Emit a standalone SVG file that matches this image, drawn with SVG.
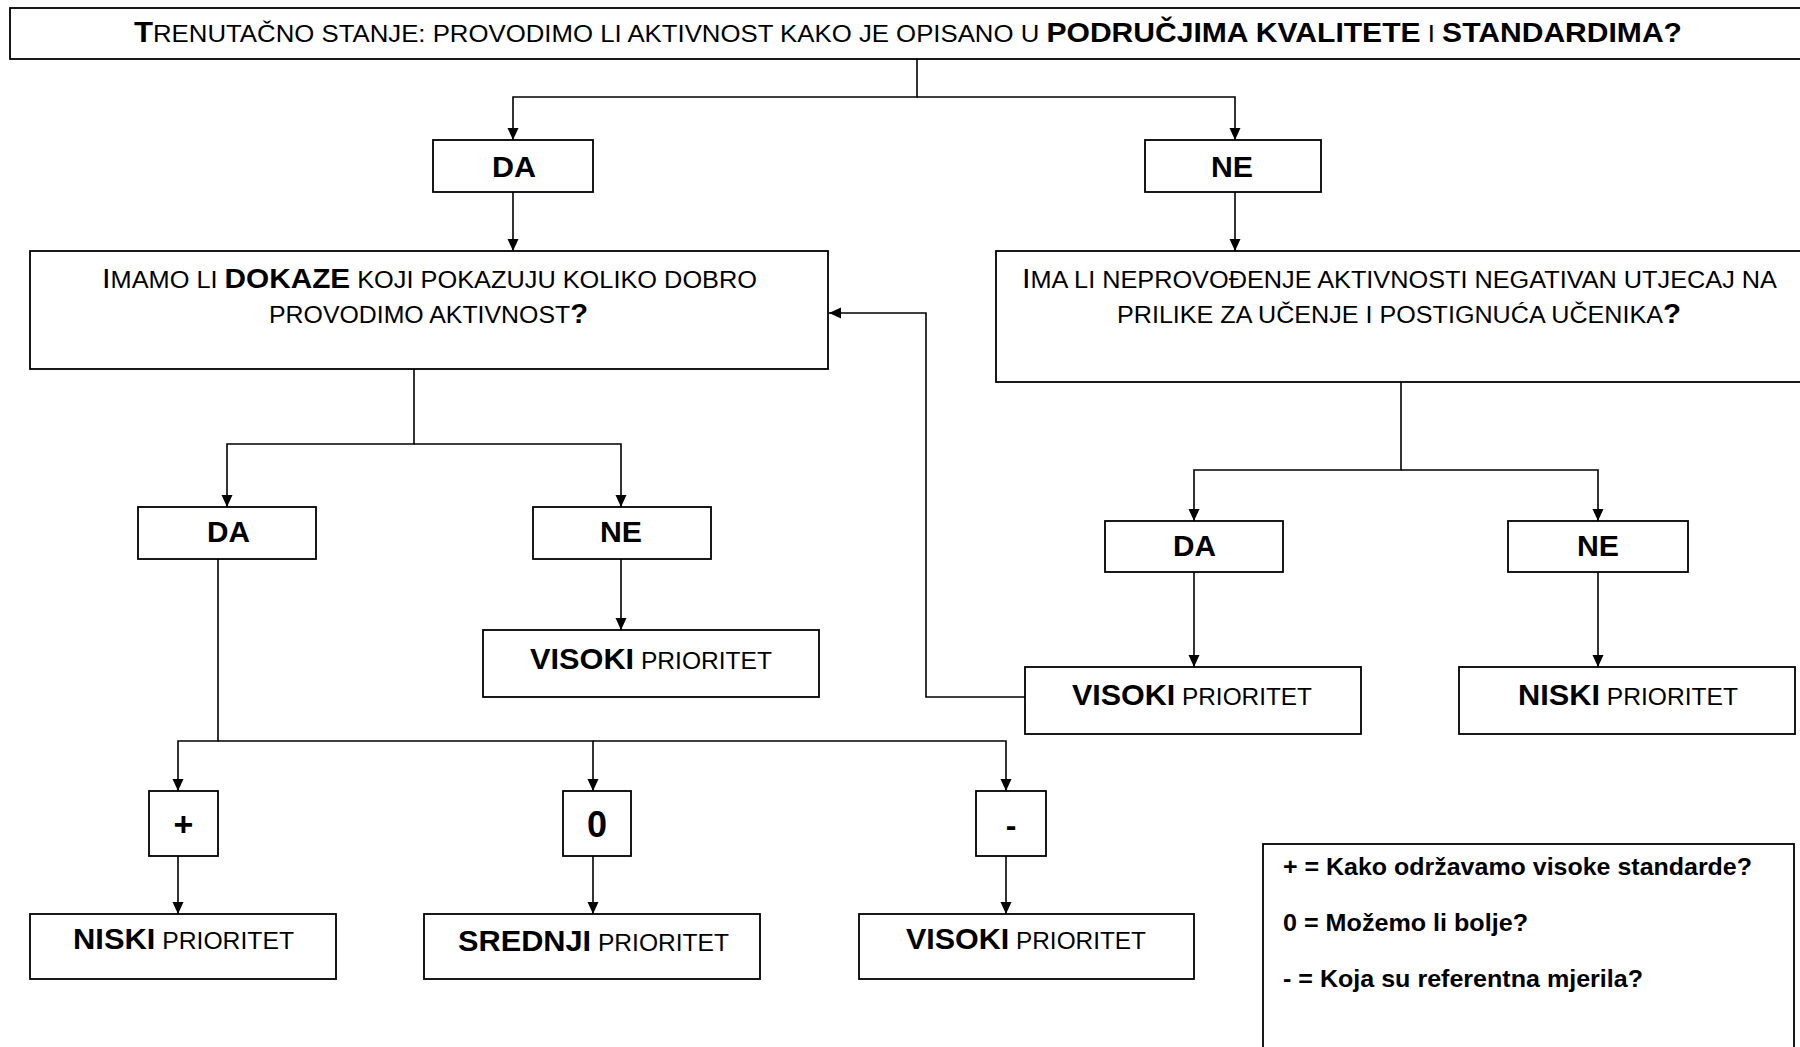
<svg xmlns="http://www.w3.org/2000/svg" width="1800" height="1047" viewBox="0 0 1800 1047">
<style>
.box{fill:#fff;stroke:#000;stroke-width:1.8}
.ln{fill:none;stroke:#000;stroke-width:1.6}
.t{font-family:"Liberation Sans","Arial",sans-serif;fill:#000}
.b{font-weight:bold}
.r{font-weight:normal}
</style>
<defs>
<marker id="arr" markerWidth="12" markerHeight="12" refX="12" refY="6" orient="auto" markerUnits="userSpaceOnUse">
<path d="M0,0.5 L12,6 L0,11.5 z" fill="#000"/>
</marker>
</defs>
<rect width="1800" height="1047" fill="#fff"/>

<g id="connectors">
<path class="ln" d="M917,59 V97 H513 V140" marker-end="url(#arr)"/>
<path class="ln" d="M917,97 H1235 V140" marker-end="url(#arr)"/>
<path class="ln" d="M513,192 V251" marker-end="url(#arr)"/>
<path class="ln" d="M1235,192 V251" marker-end="url(#arr)"/>
<path class="ln" d="M414,369 V444 H227 V507" marker-end="url(#arr)"/>
<path class="ln" d="M414,444 H621 V507" marker-end="url(#arr)"/>
<path class="ln" d="M621,559 V630" marker-end="url(#arr)"/>
<path class="ln" d="M218,559 V741 H178 V791" marker-end="url(#arr)"/>
<path class="ln" d="M218,741 H593 V791" marker-end="url(#arr)"/>
<path class="ln" d="M593,741 H1006 V791" marker-end="url(#arr)"/>
<path class="ln" d="M178,856 V914" marker-end="url(#arr)"/>
<path class="ln" d="M593,856 V914" marker-end="url(#arr)"/>
<path class="ln" d="M1006,856 V914" marker-end="url(#arr)"/>
<path class="ln" d="M1401,382 V470 H1194 V521" marker-end="url(#arr)"/>
<path class="ln" d="M1401,470 H1598 V521" marker-end="url(#arr)"/>
<path class="ln" d="M1194,572 V667" marker-end="url(#arr)"/>
<path class="ln" d="M1598,572 V667" marker-end="url(#arr)"/>
<path class="ln" d="M1025,697 H926 V313 H829" marker-end="url(#arr)"/>
</g>

<g id="n-title">
<rect class="box" x="10" y="8" width="1800" height="51"/>
<text class="t" x="134" y="42" textLength="1548" lengthAdjust="spacingAndGlyphs"><tspan class="b" font-size="29">T</tspan><tspan font-size="24">RENUTAČNO STANJE: PROVODIMO LI AKTIVNOST KAKO JE OPISANO U </tspan><tspan class="b" font-size="28">PODRUČJIMA KVALITETE</tspan><tspan font-size="24"> I </tspan><tspan class="b" font-size="28">STANDARDIMA?</tspan></text>
</g>

<g id="n-da1">
<rect class="box" x="433" y="140" width="160" height="52"/>
<text class="t b" x="492" y="177" font-size="30" textLength="44" lengthAdjust="spacingAndGlyphs">DA</text>
</g>
<g id="n-ne1">
<rect class="box" x="1145" y="140" width="176" height="52"/>
<text class="t b" x="1211" y="177" font-size="30" textLength="42" lengthAdjust="spacingAndGlyphs">NE</text>
</g>

<g id="n-dokaze">
<rect class="box" x="30" y="251" width="798" height="118"/>
<text class="t" x="102" y="288" textLength="655" lengthAdjust="spacingAndGlyphs"><tspan font-size="28">I</tspan><tspan font-size="23">MAMO LI </tspan><tspan class="b" font-size="27">DOKAZE</tspan><tspan font-size="23"> KOJI POKAZUJU KOLIKO DOBRO</tspan></text>
<text class="t" x="269" y="323" textLength="319" lengthAdjust="spacingAndGlyphs"><tspan font-size="23">PROVODIMO AKTIVNOST</tspan><tspan class="b" font-size="27">?</tspan></text>
</g>

<g id="n-utjecaj">
<rect class="box" x="996" y="251" width="810" height="131"/>
<text class="t" x="1022" y="288" textLength="755" lengthAdjust="spacingAndGlyphs"><tspan font-size="28">I</tspan><tspan font-size="23">MA LI NEPROVOĐENJE AKTIVNOSTI NEGATIVAN UTJECAJ NA</tspan></text>
<text class="t" x="1117" y="323" textLength="564" lengthAdjust="spacingAndGlyphs"><tspan font-size="23">PRILIKE ZA UČENJE I POSTIGNUĆA UČENIKA</tspan><tspan class="b" font-size="27">?</tspan></text>
</g>

<g id="n-da2">
<rect class="box" x="138" y="507" width="178" height="52"/>
<text class="t b" x="207" y="542" font-size="30" textLength="43" lengthAdjust="spacingAndGlyphs">DA</text>
</g>
<g id="n-ne2">
<rect class="box" x="533" y="507" width="178" height="52"/>
<text class="t b" x="600" y="542" font-size="30" textLength="42" lengthAdjust="spacingAndGlyphs">NE</text>
</g>

<g id="n-da3">
<rect class="box" x="1105" y="521" width="178" height="51"/>
<text class="t b" x="1173" y="556" font-size="30" textLength="43" lengthAdjust="spacingAndGlyphs">DA</text>
</g>
<g id="n-ne3">
<rect class="box" x="1508" y="521" width="180" height="51"/>
<text class="t b" x="1577" y="556" font-size="30" textLength="42" lengthAdjust="spacingAndGlyphs">NE</text>
</g>

<g id="n-visoki1">
<rect class="box" x="483" y="630" width="336" height="67"/>
<text class="t" x="530" y="669" textLength="242" lengthAdjust="spacingAndGlyphs"><tspan class="b" font-size="30">VISOKI</tspan><tspan font-size="24"> PRIORITET</tspan></text>
</g>

<g id="n-visoki2">
<rect class="box" x="1025" y="667" width="336" height="67"/>
<text class="t" x="1072" y="705" textLength="240" lengthAdjust="spacingAndGlyphs"><tspan class="b" font-size="30">VISOKI</tspan><tspan font-size="24"> PRIORITET</tspan></text>
</g>

<g id="n-niski2">
<rect class="box" x="1459" y="667" width="336" height="67"/>
<text class="t" x="1518" y="705" textLength="220" lengthAdjust="spacingAndGlyphs"><tspan class="b" font-size="30">NISKI</tspan><tspan font-size="24"> PRIORITET</tspan></text>
</g>

<g id="n-plus">
<rect class="box" x="149" y="791" width="69" height="65"/>
<text class="t b" x="183.5" y="836" font-size="34" text-anchor="middle">+</text>
</g>
<g id="n-zero">
<rect class="box" x="563" y="791" width="68" height="65"/>
<text class="t b" x="597" y="837" font-size="36" text-anchor="middle">0</text>
</g>
<g id="n-minus">
<rect class="box" x="976" y="791" width="70" height="65"/>
<text class="t b" x="1011" y="836" font-size="32" text-anchor="middle">-</text>
</g>

<g id="n-niski1">
<rect class="box" x="30" y="914" width="306" height="65"/>
<text class="t" x="73" y="949" textLength="221" lengthAdjust="spacingAndGlyphs"><tspan class="b" font-size="30">NISKI</tspan><tspan font-size="24"> PRIORITET</tspan></text>
</g>
<g id="n-srednji">
<rect class="box" x="424" y="914" width="336" height="65"/>
<text class="t" x="458" y="951" textLength="271" lengthAdjust="spacingAndGlyphs"><tspan class="b" font-size="30">SREDNJI</tspan><tspan font-size="24"> PRIORITET</tspan></text>
</g>
<g id="n-visoki3">
<rect class="box" x="859" y="914" width="335" height="65"/>
<text class="t" x="906" y="949" textLength="240" lengthAdjust="spacingAndGlyphs"><tspan class="b" font-size="30">VISOKI</tspan><tspan font-size="24"> PRIORITET</tspan></text>
</g>

<g id="n-legend">
<rect class="box" x="1263" y="844" width="531" height="230"/>
<text class="t b" x="1283" y="875" font-size="24" textLength="469" lengthAdjust="spacingAndGlyphs">+ = Kako održavamo visoke standarde?</text>
<text class="t b" x="1283" y="931" font-size="24" textLength="245" lengthAdjust="spacingAndGlyphs">0 = Možemo li bolje?</text>
<text class="t b" x="1283" y="987" font-size="24" textLength="360" lengthAdjust="spacingAndGlyphs">- = Koja su referentna mjerila?</text>
</g>
</svg>
